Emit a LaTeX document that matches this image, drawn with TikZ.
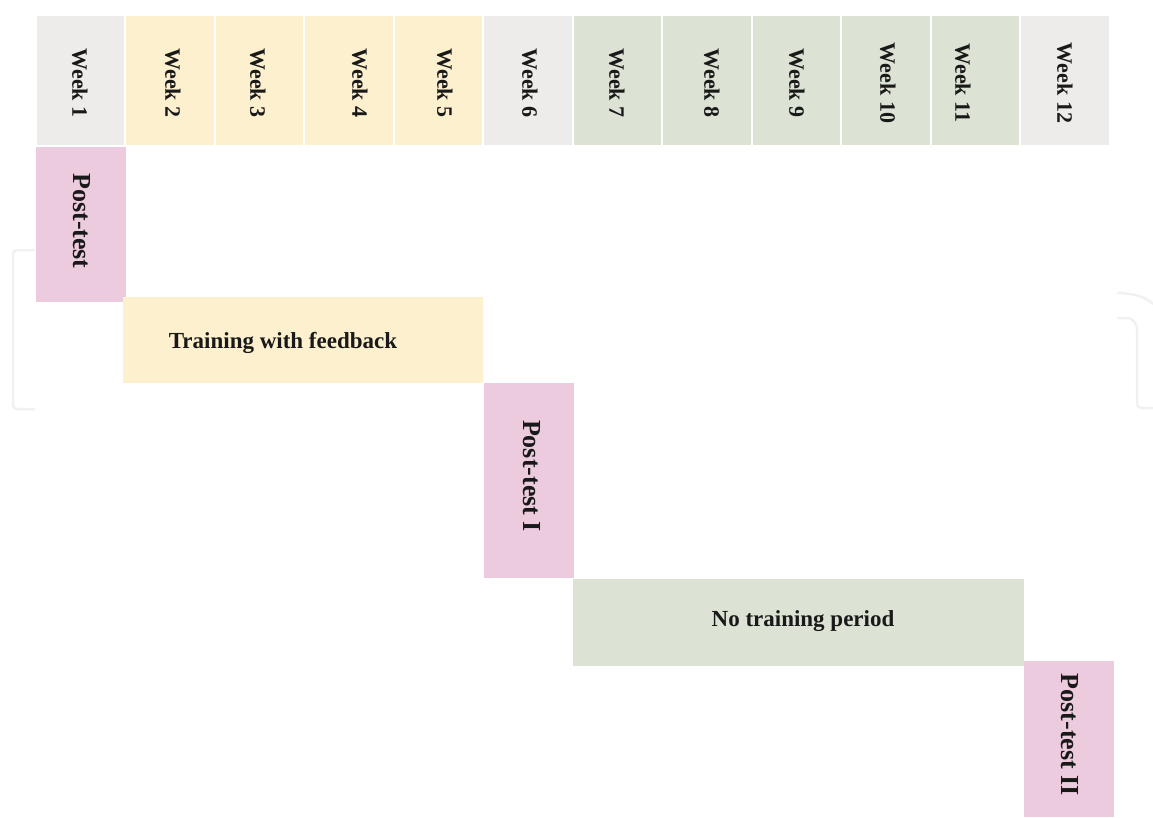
\documentclass[tikz,border=0pt]{standalone}
\usepackage{fontspec}
\setmainfont{Liberation Serif}
\definecolor{wkgray}{HTML}{EDECEA}
\definecolor{wkyellow}{HTML}{FDF0CF}
\definecolor{wkgreen}{HTML}{DCE3D4}
\definecolor{wkpink}{HTML}{EDCBDE}
\definecolor{wmgray}{HTML}{F1F1F1}
\begin{document}
\begin{tikzpicture}[x=1pt,y=-1pt,
  cellbox/.style={draw=none, inner sep=0pt, minimum width=87.5pt, minimum height=129pt},
  blockbox/.style={draw=none, inner sep=0pt},
  weektext/.style={rotate=-90, inner sep=0pt, text depth=0pt, font=\bfseries\fontsize{22}{24}\selectfont, text=black!90},
  posttext/.style={rotate=-90, inner sep=0pt, text depth=0pt, font=\bfseries\fontsize{26}{28}\selectfont, text=black!90},
  htext/.style={inner sep=0pt, text depth=0pt, font=\bfseries\fontsize{23}{26}\selectfont, text=black!90},
  wm/.style={draw=wmgray, line width=2.5pt, rounded corners=4pt}
]
\useasboundingbox (0,0) rectangle (1153,817);
\fill[white] (0,0) rectangle (1153,817);

% faint watermark outline
\draw[wm] (35,250) -- (13,250) -- (13,409) -- (35,409);
\draw[draw=wmgray, line width=2.5pt] (1117,293) .. controls (1133,293) and (1146,297) .. (1153,304);
\draw[wm] (1117,318) -- (1124,318) .. controls (1132,318) and (1137,324) .. (1137,332) -- (1137,408) -- (1153,408);

% header cells
\foreach \i/\c/\tx in {1/wkgray/80, 2/wkyellow/173, 3/wkyellow/258, 4/wkyellow/360,
                      5/wkyellow/445, 6/wkgray/530, 7/wkgreen/617, 8/wkgreen/712,
                      9/wkgreen/797, 10/wkgreen/888, 11/wkgreen/963, 12/wkgray/1065} {
  \node[cellbox, fill=\c] (w\i) at ({80.45+(\i-1)*89.5},80.5) {};
  \node[weektext] (t\i) at (\tx,83) {Week \i};
}

% phase blocks
\node[blockbox, fill=wkpink, minimum width=90pt, minimum height=155pt] (pre) at (81,224.5) {};
\node[posttext] (pretext) at (82,221) {Post-test};

\node[blockbox, fill=wkyellow, minimum width=360pt, minimum height=86pt] (train) at (303,340) {};
\node[htext] (traintext) at (283,340) {Training with feedback};

\node[blockbox, fill=wkpink, minimum width=90pt, minimum height=195pt] (post1) at (529,480.5) {};
\node[posttext] (post1text) at (532,476) {Post-test I};

\node[blockbox, fill=wkgreen, minimum width=451pt, minimum height=87pt] (notrain) at (798.5,622.5) {};
\node[htext] (notraintext) at (803,619) {No training period};

\node[blockbox, fill=wkpink, minimum width=90pt, minimum height=156pt] (post2) at (1069,739) {};
\node[posttext] (post2text) at (1070,735) {Post-test II};
\end{tikzpicture}
\end{document}
